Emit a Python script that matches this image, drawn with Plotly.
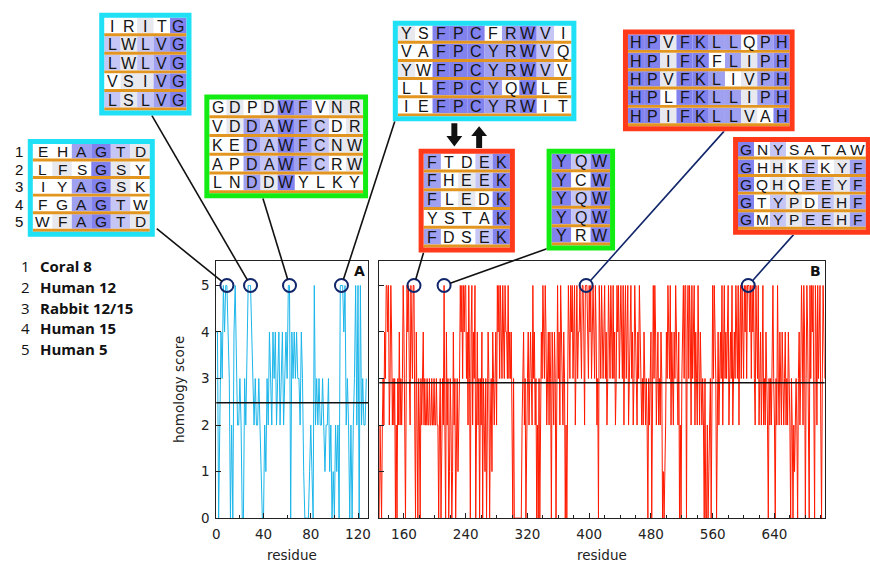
import plotly.graph_objects as go

W, H = 870, 569

# ---------------- data ----------------
SCORES_A_ROWS = [  # residues 0..127, one digit per residue
    "4402435455", "4302045322", "3200324555", "4323223210", "0213243243",
    "4234234234", "3550434343", "3243100001", "2105232322", "3212231201",
    "0212055545", "2320202352", "50523223",
]
SCORES_B_ROWS = [  # residues 128..705
    "0210232435", "5452354232", "3020324232", "3542035453", "2543552042",
    "0320323423", "2232232232", "2322322023", "0232520423", "0132014230",
    "2312354535", "4553425304", "5243503423", "0324032130", "2430231432",
    "3425453543", "5435443534", "3420300000", "0000023423", "0234234325",
    "3423020302", "4354354234", "2430432430", "4534254324", "3020354354",
    "5345245344", "5435542555", "4354534543", "5423054354", "3453423543",
    "5435342354", "5345435245", "3452345342", "3543243543", "2324323203",
    "2340253542", "3423243010", "1243543524", "3243543240", "2034535504",
    "5354253452", "4325324323", "2030020123", "0253543034", "2343524534",
    "3452343523", "4354352453", "5435453555", "4535453254", "3523423523",
    "2432032324", "5320325324", "3243234232", "4320320212", "3203423542",
    "5403542053", "5453054253", "45203543",
]
START_A = 0
START_B = 128
MEAN_A = 2.48
MEAN_B = 2.91
CIRCLES_A = [9, 29, 62, 106]
CIRCLES_B = [173, 212, 396, 606]

X_TICKS_A = [0, 40, 80, 120]
X_TICKS_B = [160, 240, 320, 400, 480, 560, 640]
Y_TICKS = [0, 1, 2, 3, 4, 5]

SPECIES_NUM = ["1", "2", "3", "4", "5"]
SPECIES = ["Coral 8", "Human 12", "Rabbit 12/15", "Human 15", "Human 5"]

ALN_1 = ["EHAGTD", "LFSGSY", "IYAGSK", "FGAGTW", "WFAGTD"]
ALN_2 = ["IRITG", "LWLVG", "LWLVG", "VSIVG", "LSLVG"]
ALN_3 = ["GDPDWFVNR", "VDDAWFCDR", "KEDAWFCNW", "APDAWFCRW", "LNDDWYLKY"]
ALN_4 = ["YSFPCFRWVI", "VAFPCYRWVQ", "YWFPCYRWVV", "LLFPCYQWLE", "IEFPCYRWIT"]
ALN_5 = ["FTDEK", "FHEEK", "FLEDK", "YSTAK", "FDSEK"]
ALN_6 = ["YQW", "YCW", "YQW", "YQW", "YRW"]
ALN_7 = ["HPVFKLLQPH", "HPIFKFLIPH", "HPVFKLIVPH", "HPLFKLLIPH", "HPIFKLLVAH"]
ALN_8 = ["GNYSATAW", "GHHKEKYF", "GQHQEEYF", "GTYPDEHF", "GMYPEEHF"]

# ---------------- layout geometry (pixels) ----------------
A_PX = (214.0, 367.0)
B_PX = (378.3, 827.3)
Y_PX = (525.5, 265.0)  # bottom, top
A_RANGE = [0, 128.5]
B_RANGE = [128, 705]
Y_RANGE = [0, 5.52]

CYAN = "#1fe0f5"
GREEN = "#12ec12"
RED = "#ff3a1a"
ORANGE = "#e3961f"
NAVY = "#10256a"
SHADE = {5: "#8282ee", 4: "#a0a0f1", 3: "#c6c6f6", 2: "#e8e8ef"}


def pp(x, y):
    return x / W, 1 - y / H


def data_px(x, y, xpx, xr):
    px = xpx[0] + (x - xr[0]) / (xr[1] - xr[0]) * (xpx[1] - xpx[0])
    py = Y_PX[0] + (y - Y_RANGE[0]) / (Y_RANGE[1] - Y_RANGE[0]) * (Y_PX[1] - Y_PX[0])
    return px, py


scores_a = [int(c) for c in "".join(SCORES_A_ROWS)]
scores_b = [int(c) for c in "".join(SCORES_B_ROWS)]
xa = list(range(START_A, START_A + len(scores_a)))
xb = list(range(START_B, START_B + len(scores_b)))

fig = go.Figure()
fig.add_trace(go.Scatter(x=xa, y=scores_a, mode="lines", line=dict(color="#1cb6ea", width=1),
                         xaxis="x", yaxis="y", hoverinfo="skip"))
fig.add_trace(go.Scatter(x=xb, y=scores_b, mode="lines", line=dict(color="#ff1a00", width=1),
                         xaxis="x2", yaxis="y2", hoverinfo="skip"))

tickfont = dict(family="DejaVu Sans", size=13.5, color="#222")
ydom = [1 - Y_PX[0] / H, 1 - Y_PX[1] / H]
common = dict(showline=True, mirror=True, linecolor="#222", linewidth=1, showgrid=False,
              zeroline=False, ticks="inside", ticklen=5, tickcolor="#222", tickfont=tickfont)
fig.update_layout(
    width=W, height=H, margin=dict(l=0, r=0, t=0, b=0),
    paper_bgcolor="white", plot_bgcolor="white", showlegend=False,
    xaxis=dict(domain=[A_PX[0] / W, A_PX[1] / W], range=A_RANGE, anchor="y",
               tickvals=X_TICKS_A, minor=dict(dtick=20, ticks="inside", ticklen=3, tickcolor="#222"),
               ticklabelstandoff=4, **common),
    yaxis=dict(domain=ydom, range=Y_RANGE, anchor="x", tickvals=Y_TICKS,
               ticklabelstandoff=3, **common),
    xaxis2=dict(domain=[B_PX[0] / W, B_PX[1] / W], range=B_RANGE, anchor="y2",
                tickvals=X_TICKS_B, minor=dict(dtick=20, ticks="inside", ticklen=3, tickcolor="#222"),
                ticklabelstandoff=4, **common),
    yaxis2=dict(domain=ydom, range=Y_RANGE, anchor="x2", tickvals=Y_TICKS,
                showticklabels=False, **common),
)

shapes = []
annos = []

# mean lines
for xr_, yr_, m in (("x domain", "y", MEAN_A), ("x2 domain", "y2", MEAN_B)):
    shapes.append(dict(type="line", xref=xr_, yref=yr_, x0=0, x1=1, y0=m, y1=m,
                       line=dict(color="#111", width=1.5), layer="above"))

R = 6.5
# circles
for xs, xref, yref in ((CIRCLES_A, "x", "y"), (CIRCLES_B, "x2", "y2")):
    for c in xs:
        shapes.append(dict(type="circle", xref=xref, yref=yref, xsizemode="pixel", ysizemode="pixel",
                           xanchor=c, yanchor=5, x0=-R, x1=R, y0=-R, y1=R,
                           line=dict(color=NAVY, width=2), layer="above"))

# connectors (box attachment points in px)
anchors_a = [(154, 232), (149, 117), (261, 201), (394, 123)]
anchors_b = [(423, 256), (548, 252), (726, 133), (796, 238)]
conn_col_b = ["#111", "#111", NAVY, NAVY]
for xs, anchors, xpx, xr, cols in ((CIRCLES_A, anchors_a, A_PX, A_RANGE, ["#111"] * 4),
                                   (CIRCLES_B, anchors_b, B_PX, B_RANGE, conn_col_b)):
    for c, (bx, by), col in zip(xs, anchors, cols):
        cx, cy = data_px(c, 5, xpx, xr)
        dx, dy = bx - cx, by - cy
        d = (dx * dx + dy * dy) ** 0.5
        ex, ey = cx + dx / d * R, cy + dy / d * R
        x0, y0 = pp(bx, by)
        x1, y1 = pp(ex, ey)
        shapes.append(dict(type="line", xref="paper", yref="paper", x0=x0, y0=y0, x1=x1, y1=y1,
                           line=dict(color=col, width=1.6), layer="above"))

# alignment boxes
boxes = [
    (ALN_1, (24, 141, 152, 240), CYAN),
    (ALN_2, (96, 13, 189, 117), CYAN),
    (ALN_3, (202, 96, 367, 201), GREEN),
    (ALN_4, (392, 21, 577, 123), CYAN),
    (ALN_5, (418, 151, 515, 256), RED),
    (ALN_6, (547, 151, 616, 254), GREEN),
    (ALN_7, (624, 30, 797, 133), RED),
    (ALN_8, (735, 139, 873.8, 238), RED),
]
BW = 5
OL = 3
letter_font = dict(family="Liberation Sans", size=16, color="#161616")
for rows, (x0, y0, x1, y1), col in boxes:
    ncol = len(rows[0])
    nrow = len(rows)
    ix0, iy0, ix1, iy1 = x0 + BW, y0 + BW, x1 - BW, y1 - BW
    cw = (ix1 - ix0) / ncol
    rh = (iy1 - iy0) / nrow
    # white background
    a, b = pp(x0, y0)
    c_, d = pp(x1, y1)
    shapes.append(dict(type="rect", xref="paper", yref="paper", x0=a, y0=d, x1=c_, y1=b,
                       fillcolor="white", line=dict(width=0), layer="above"))
    for j in range(ncol):
        column = [r[j] for r in rows]
        for i, ch in enumerate(column):
            cnt = column.count(ch)
            ry0 = iy0 + i * rh
            ry1 = ry0 + rh - OL
            cx0 = ix0 + j * cw
            cx1 = cx0 + cw
            if cnt >= 2:
                a, b = pp(cx0, ry0)
                c_, d = pp(cx1, ry1)
                shapes.append(dict(type="rect", xref="paper", yref="paper", x0=a, y0=d, x1=c_, y1=b,
                                   fillcolor=SHADE[cnt], line=dict(width=0), layer="above"))
            tx, ty = pp(cx0 + cw / 2, (ry0 + ry1) / 2 + 0.5)
            annos.append(dict(x=tx, y=ty, xref="paper", yref="paper", text=ch, showarrow=False,
                              xanchor="center", yanchor="middle", borderpad=0,
                              font=letter_font if rh > 18.2 else dict(letter_font, size=15.5)))
    for i in range(nrow):
        ry1 = iy0 + (i + 1) * rh
        a, b = pp(ix0, ry1 - OL)
        c_, d = pp(ix1, ry1)
        shapes.append(dict(type="rect", xref="paper", yref="paper", x0=a, y0=d, x1=c_, y1=b,
                           fillcolor=ORANGE, line=dict(width=0), layer="above"))
    a, b = pp(x0 + BW / 2, y0 + BW / 2)
    c_, d = pp(x1 - BW / 2, y1 - BW / 2)
    shapes.append(dict(type="rect", xref="paper", yref="paper", x0=a, y0=d, x1=c_, y1=b,
                       line=dict(color=col, width=BW), fillcolor="rgba(0,0,0,0)", layer="above"))

# row numbers beside first box
(_, (bx0, by0, bx1, by1), _) = boxes[0]
rh1 = (by1 - by0 - 2 * BW) / 5
for i, n in enumerate(SPECIES_NUM):
    tx, ty = pp(15, by0 + BW + i * rh1 + (rh1 - OL) / 2 + 0.5)
    annos.append(dict(x=tx, y=ty, xref="paper", yref="paper", text=n, showarrow=False,
                      xanchor="center", yanchor="middle", borderpad=0,
                      font=dict(family="Liberation Sans", size=15, color="#111")))


# arrows between box 4 and box 5
def poly(pts):
    s = ""
    for k, (x, y) in enumerate(pts):
        px_, py_ = pp(x, y)
        s += ("M" if k == 0 else "L") + f"{px_:.5f},{py_:.5f} "
    return s + "Z"


down = [(451, 125), (457, 125), (457, 138), (462, 138), (454, 148.5), (446, 138), (451, 138)]
up = [(476, 150), (482, 150), (482, 138), (487, 138), (479, 128), (471, 138), (476, 138)]
for pts in (down, up):
    shapes.append(dict(type="path", xref="paper", yref="paper", path=poly(pts),
                       fillcolor="#111", line=dict(width=0), layer="above"))

# species legend
for i, (n, s) in enumerate(zip(SPECIES_NUM, SPECIES)):
    y = 270 + i * 21
    tx, ty = pp(22, y)
    annos.append(dict(x=tx, y=ty, xref="paper", yref="paper", text=n, showarrow=False,
                      xanchor="center", yanchor="middle", borderpad=0,
                      font=dict(family="Open Sans", size=15, color="#111")))
    tx, ty = pp(35, y)
    annos.append(dict(x=tx, y=ty, xref="paper", yref="paper", text=f"<b>{s}</b>", showarrow=False,
                      xanchor="left", yanchor="middle", borderpad=0,
                      font=dict(family="Open Sans", size=15, color="#111")))

# axis titles and panel labels
lab_font = dict(family="DejaVu Sans", size=13.5, color="#222")
tx, ty = pp(177, 395)
annos.append(dict(x=tx, y=ty, xref="paper", yref="paper", text="homology score", showarrow=False,
                  textangle=-90, xanchor="center", yanchor="middle", font=lab_font))
for cx in ((A_PX[0] + A_PX[1]) / 2, (B_PX[0] + B_PX[1]) / 2):
    tx, ty = pp(cx, 563)
    annos.append(dict(x=tx, y=ty, xref="paper", yref="paper", text="residue", showarrow=False,
                      xanchor="center", yanchor="middle", font=lab_font))
for t, x in (("A", 358), ("B", 818)):
    tx, ty = pp(x, 275)
    annos.append(dict(x=tx, y=ty, xref="paper", yref="paper", text=f"<b>{t}</b>", showarrow=False,
                      xanchor="center", yanchor="middle",
                      font=dict(family="DejaVu Sans", size=14, color="#111")))

fig.update_layout(shapes=shapes, annotations=annos)
fig.write_html("out.html")
